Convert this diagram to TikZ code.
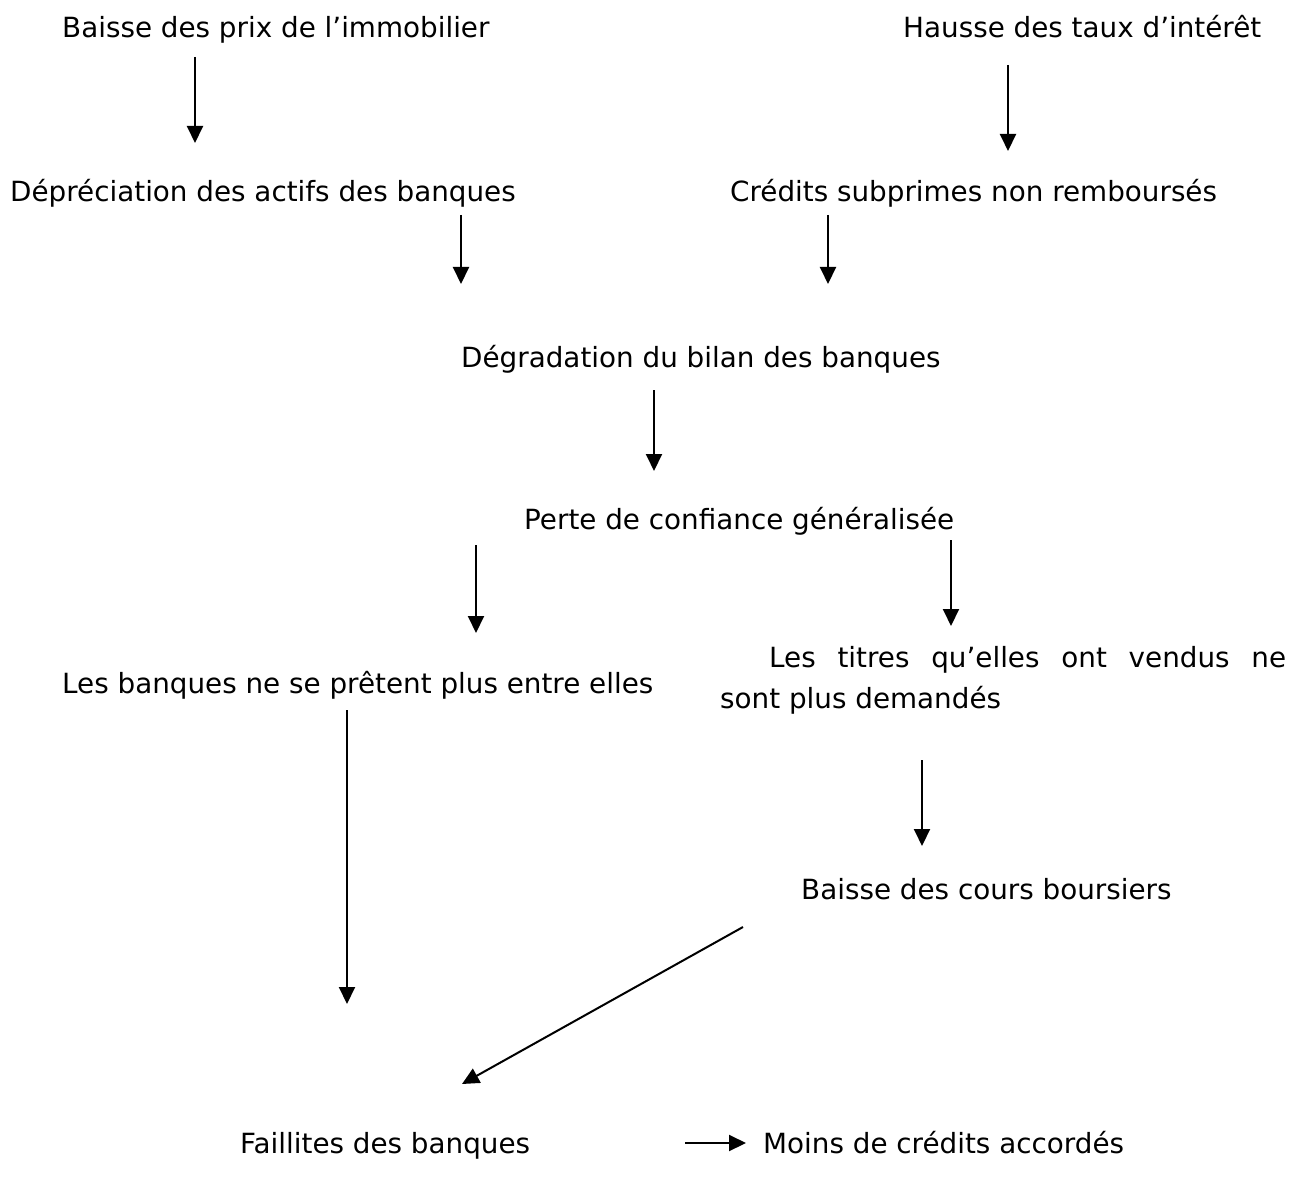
\documentclass[tikz,border=0pt]{standalone}
\usepackage{fontspec}
\setmainfont{DejaVu Sans}
\usetikzlibrary{arrows.meta}
\begin{document}
\begin{tikzpicture}[x=1pt,y=-1pt,
  lbl/.style={anchor=base west,inner sep=0pt,font=\fontsize{27.8}{32}\selectfont},
  arr/.style={line width=2pt,-{Triangle[width=16pt,length=17pt]}}]
\useasboundingbox[fill=white] (0,0) rectangle (1306,1190);
\node[lbl] (a) at (62,38) {Baisse des prix de l’immobilier};
\node[lbl] (b) at (903,38) {Hausse des taux d’intérêt};
\node[lbl] (c) at (10,202) {Dépréciation des actifs des banques};
\node[lbl] (d) at (730,202) {Crédits subprimes non remboursés};
\node[lbl] (e) at (461,367) {Dégradation du bilan des banques};
\node[lbl] (f) at (524,529) {Perte de confiance généralisée};
\node[lbl] (g) at (62,693) {Les banques ne se prêtent plus entre elles};
\node[lbl] (h1) at (769,667) {\makebox[517pt][s]{Les titres qu’elles ont vendus ne}};
\node[lbl] (h2) at (720,708) {sont plus demandés};
\node[lbl] (i) at (801,899) {Baisse des cours boursiers};
\node[lbl] (j) at (240,1153) {Faillites des banques};
\node[lbl] (k) at (763,1153) {Moins de crédits accordés};
% connector ends
\coordinate (a1) at (195,57);  \coordinate (a2) at (195,143);
\coordinate (b1) at (1008,65); \coordinate (b2) at (1008,151);
\coordinate (c1) at (461,215); \coordinate (c2) at (461,284);
\coordinate (d1) at (828,215); \coordinate (d2) at (828,284);
\coordinate (e1) at (654,390); \coordinate (e2) at (654,471);
\coordinate (f1) at (476,545); \coordinate (f2) at (476,633);
\coordinate (f3) at (951,540); \coordinate (f4) at (951,626);
\coordinate (g1) at (347,710); \coordinate (g2) at (347,1004);
\coordinate (h3) at (922,760); \coordinate (h4) at (922,846);
\coordinate (i1) at (743,927); \coordinate (i2) at (462,1084);
\coordinate (j1) at (685,1143); \coordinate (j2) at (746,1143);
\draw[arr] (a1) -- (a2);
\draw[arr] (b1) -- (b2);
\draw[arr] (c1) -- (c2);
\draw[arr] (d1) -- (d2);
\draw[arr] (e1) -- (e2);
\draw[arr] (f1) -- (f2);
\draw[arr] (f3) -- (f4);
\draw[arr] (g1) -- (g2);
\draw[arr] (h3) -- (h4);
\draw[arr] (i1) -- (i2);
\draw[arr] (j1) -- (j2);
\end{tikzpicture}
\end{document}
